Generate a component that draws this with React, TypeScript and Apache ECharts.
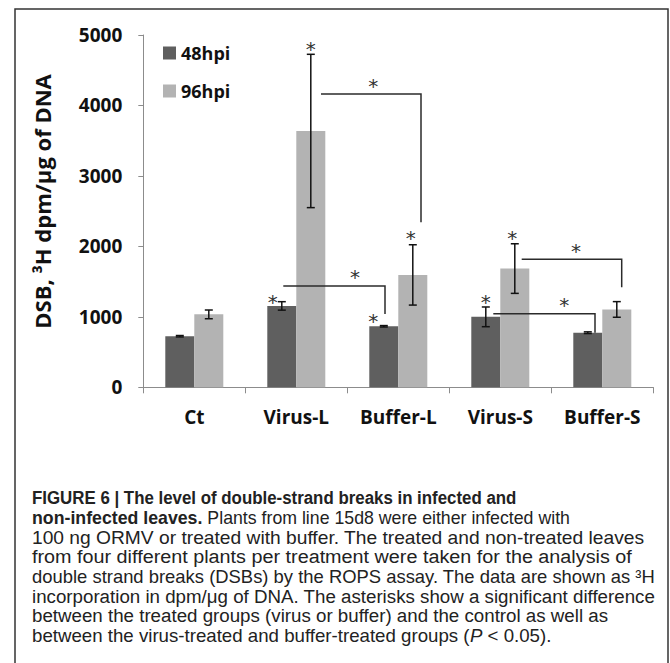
import { useEffect, useRef } from 'react';
import * as echarts from 'echarts';

// ---------- data ----------
const categories = ['Ct', 'Virus-L', 'Buffer-L', 'Virus-S', 'Buffer-S'];
const seriesNames = ['48hpi', '96hpi'];
const values48 = [725, 1155, 866, 1000, 775];
const errors48 = [10, 60, 10, 140, 12];
const values96 = [1035, 3638, 1595, 1685, 1105];
const errors96 = [62, 1088, 428, 352, 111];
const yMin = 0;
const yMax = 5000;
const yInterval = 1000;

// significance brackets (category indices and axis values)
const bracketFrom = [1, 1, 3, 3];
const bracketTo = [2, 2, 4, 4];
const bracketLevels = [4163, 1438, 1817, 1045];
const bracketEnds = [2342, 1040, 1419, 775];

// asterisks (category index and axis value of the mark)
const starCategories = [1, 1, 2, 2, 3, 3, 2, 2, 4, 4];
const starValues = [1263, 4858, 1002, 2171, 1263, 2171, 4337, 1626, 1995, 1225];

const yAxisTitle = 'DSB, \u00B3H dpm/\u03BCg of DNA';
const captionTitle = 'FIGURE 6 | The level of double-strand breaks in infected and';
const captionBold2 = 'non-infected leaves.';
const captionLines = [
  'Plants from line 15d8 were either infected with',
  '100 ng ORMV or treated with buffer. The treated and non-treated leaves',
  'from four different plants per treatment were taken for the analysis of',
  'double strand breaks (DSBs) by the ROPS assay. The data are shown as \u00B3H',
  'incorporation in dpm/\u03BCg of DNA. The asterisks show a significant difference',
  'between the treated groups (virus or buffer) and the control as well as',
  'between the virus-treated and buffer-treated groups (P < 0.05).',
];

// ---------- layout / style ----------
const BAR_WIDTH = 29;
const CAP = 4;
const DARK = '#5f5f5f';
const LIGHT = '#b3b3b3';
const AXIS_COLOR = '#8c8c8c';
const LINE_COLOR = '#2b2b2b';
const BRACKET_START_OFFSETS = [24.7, -13, 21.4, -7];
const BRACKET_END_OFFSETS = [22.7, -13.3, 19.4, -7.3];
const STAR_OFFSETS = [-23.6, 14.4, -25, 12.4, -14.6, 12, -25, -43.3, -26.3, -38];
const STAR_DY = 4;
const CHART_FONT = '"Open Sans", "Liberation Sans", sans-serif';
const CAP_FAMILY = '"Liberation Sans", Arial, sans-serif';
const CAP_SIZE = 18;
const CAP_LEFT = 32;
// target right edges: title, line 2, then the remaining lines
const CAP_RIGHTS = [516, 570, 644, 632, 655, 655, 608, 551];
const CAP_Y0 = 498;
const CAP_STEP = 19.65;
const REG_FONT = `${CAP_SIZE}px ${CAP_FAMILY}`;
const BOLD_FONT = `bold ${CAP_SIZE}px ${CAP_FAMILY}`;

function errorSeries(name: string, vals: number[], errs: number[], side: number) {
  return {
    type: 'custom',
    name,
    coordinateSystem: 'cartesian2d',
    silent: true,
    clip: false,
    z: 5,
    data: vals.map((v, i) => [i, v, errs[i]]),
    renderItem: (_p: any, api: any) => {
      const i = api.value(0);
      const v = api.value(1);
      const e = api.value(2);
      const top = api.coord([i, v + e]);
      const bot = api.coord([i, v - e]);
      const x = top[0] + (side * BAR_WIDTH) / 2;
      const st = { stroke: '#111', lineWidth: 1.5 };
      return {
        type: 'group',
        children: [
          { type: 'line', shape: { x1: x, y1: top[1], x2: x, y2: bot[1] }, style: st },
          { type: 'line', shape: { x1: x - CAP, y1: top[1], x2: x + CAP, y2: top[1] }, style: st },
          { type: 'line', shape: { x1: x - CAP, y1: bot[1], x2: x + CAP, y2: bot[1] }, style: st },
        ],
      };
    },
  };
}

function spanWidth(text: string, bold: boolean) {
  const s = document.createElement('span');
  s.style.position = 'absolute';
  s.style.visibility = 'hidden';
  s.style.whiteSpace = 'pre';
  s.style.fontFamily = CAP_FAMILY;
  s.style.fontSize = CAP_SIZE + 'px';
  s.style.fontWeight = bold ? 'bold' : 'normal';
  s.textContent = text;
  document.body.appendChild(s);
  const w = s.getBoundingClientRect().width;
  document.body.removeChild(s);
  return w || 1;
}

function capText(text: string, x: number, y: number, bold: boolean, sx: number, rich?: any) {
  return {
    type: 'text',
    x,
    y,
    scaleX: sx,
    scaleY: 1,
    silent: true,
    style: {
      text,
      font: bold ? BOLD_FONT : REG_FONT,
      fill: '#222',
      align: 'left',
      verticalAlign: 'middle',
      rich,
    },
  };
}

function buildCaption(w: (t: string, bold: boolean) => number) {
  const out: any[] = [];
  const sx0 = (CAP_RIGHTS[0] - CAP_LEFT) / w(captionTitle, true);
  out.push(capText(captionTitle, CAP_LEFT, CAP_Y0, true, sx0));
  const wB = w(captionBold2, true);
  const wSp = spanWidth(' ', false);
  const wR = w(captionLines[0], false);
  const sx1 = (CAP_RIGHTS[1] - CAP_LEFT) / (wB + wSp + wR);
  out.push(capText(captionBold2, CAP_LEFT, CAP_Y0 + CAP_STEP, true, sx1));
  out.push(capText(captionLines[0], CAP_LEFT + (wB + wSp) * sx1, CAP_Y0 + CAP_STEP, false, sx1));
  for (let k = 1; k < captionLines.length; k++) {
    const t = captionLines[k];
    const isLast = k === captionLines.length - 1;
    const sx = (CAP_RIGHTS[k + 1] - CAP_LEFT) / (isLast ? spanWidth(t, false) : w(t, false));
    const shown = isLast ? t.replace('(P <', '({i|P} <') : t;
    out.push(
      capText(shown, CAP_LEFT, CAP_Y0 + CAP_STEP * (k + 1), false, sx,
        isLast ? { i: { fontStyle: 'italic', fontSize: CAP_SIZE, fontFamily: CAP_FAMILY, fill: '#222' } } : undefined)
    );
  }
  return out;
}

function buildOption(caption: any[]) {
  return {
    animation: false,
    backgroundColor: '#ffffff',
    grid: { left: 143.3, top: 35, width: 510, height: 352.3, outerBoundsMode: 'none' },
    legend: {
      data: seriesNames,
      orient: 'vertical',
      left: 158,
      top: 39,
      itemWidth: 13,
      itemHeight: 13,
      itemGap: 20,
      icon: 'rect',
      selectedMode: false,
      textStyle: { fontFamily: CHART_FONT, fontWeight: 'bold', fontSize: 18, color: '#111', lineHeight: 18 },
    },
    xAxis: {
      type: 'category',
      data: categories,
      axisLine: { show: true, lineStyle: { color: AXIS_COLOR, width: 1 } },
      axisTick: { show: true, length: 6, alignWithLabel: false, interval: 0, lineStyle: { color: AXIS_COLOR } },
      axisLabel: { interval: 0, margin: 20, fontFamily: CHART_FONT, fontWeight: 'bold', fontSize: 19, color: '#111' },
      splitLine: { show: false },
    },
    yAxis: {
      type: 'value',
      min: yMin,
      max: yMax,
      interval: yInterval,
      axisLine: { show: true, lineStyle: { color: AXIS_COLOR, width: 1 } },
      axisTick: { show: true, length: 5, lineStyle: { color: AXIS_COLOR } },
      axisLabel: {
        margin: 21,
        fontFamily: CHART_FONT,
        fontWeight: 'bold',
        fontSize: 19,
        color: '#111',
        formatter: (v: number) => String(v),
      },
      splitLine: { show: false },
    },
    series: [
      {
        type: 'bar',
        name: seriesNames[0],
        data: values48,
        barWidth: BAR_WIDTH,
        barGap: '0%',
        itemStyle: { color: DARK },
        z: 2,
      },
      {
        type: 'bar',
        name: seriesNames[1],
        data: values96,
        barWidth: BAR_WIDTH,
        barGap: '0%',
        itemStyle: { color: LIGHT },
        z: 2,
      },
      errorSeries('err48', values48, errors48, -1),
      errorSeries('err96', values96, errors96, 1),
      {
        type: 'custom',
        name: 'brackets',
        coordinateSystem: 'cartesian2d',
        silent: true,
        clip: false,
        z: 6,
        data: bracketFrom.map((f, i) => [f, bracketLevels[i], bracketTo[i], bracketEnds[i]]),
        renderItem: (p: any, api: any) => {
          const k = p.dataIndex;
          const a = api.coord([api.value(0), api.value(1)]);
          const b = api.coord([api.value(2), api.value(3)]);
          const xs = a[0] + BRACKET_START_OFFSETS[k];
          const xe = b[0] + BRACKET_END_OFFSETS[k];
          return {
            type: 'polyline',
            shape: { points: [[xs, a[1]], [xe, a[1]], [xe, b[1]]] },
            style: { stroke: LINE_COLOR, lineWidth: 1.5, fill: 'none' },
          };
        },
      },
      {
        type: 'custom',
        name: 'stars',
        coordinateSystem: 'cartesian2d',
        silent: true,
        clip: false,
        z: 7,
        data: starCategories.map((c, i) => [c, starValues[i]]),
        renderItem: (p: any, api: any) => {
          const pt = api.coord([api.value(0), api.value(1)]);
          return {
            type: 'text',
            x: pt[0] + STAR_OFFSETS[p.dataIndex],
            y: pt[1] + STAR_DY,
            style: {
              text: '*',
              font: '20px "DejaVu Sans", sans-serif',
              fill: '#333',
              align: 'center',
              verticalAlign: 'middle',
            },
          };
        },
      },
    ],
    graphic: [
      {
        type: 'rect',
        silent: true,
        shape: { x: 15, y: 9, width: 653, height: 700 },
        style: { fill: 'none', stroke: '#333', lineWidth: 1.5 },
      },
      {
        type: 'text',
        x: 42,
        y: 201.5,
        rotation: Math.PI / 2,
        silent: true,
        style: {
          text: yAxisTitle,
          font: `bold 22px ${CHART_FONT}`,
          fill: '#111',
          align: 'center',
          verticalAlign: 'middle',
        },
      },
      ...caption,
    ],
  };
}

export default function App() {
  const ref = useRef<HTMLDivElement>(null);
  useEffect(() => {
    const host = ref.current;
    if (!host) return;
    const chart = echarts.init(host, null, { renderer: 'svg' });
    chart.setOption(buildOption(buildCaption(spanWidth)) as any, true);

    // refine caption scaling with the widths the SVG text actually renders at
    const texts = Array.from(host.querySelectorAll('text')) as SVGTextElement[];
    const svgWidth = (t: string, bold: boolean) => {
      const el = texts.find((n) => n.textContent === t);
      let len = 0;
      try {
        len = el ? el.getComputedTextLength() : 0;
      } catch (e) {
        len = 0;
      }
      return len > 0 ? len : spanWidth(t, bold);
    };
    chart.setOption(buildOption(buildCaption(svgWidth)) as any, true);

    return () => chart.dispose();
  }, []);
  return <div ref={ref} style={{ position: 'absolute', left: 0, top: 0, width: 670, height: 663 }} />;
}
